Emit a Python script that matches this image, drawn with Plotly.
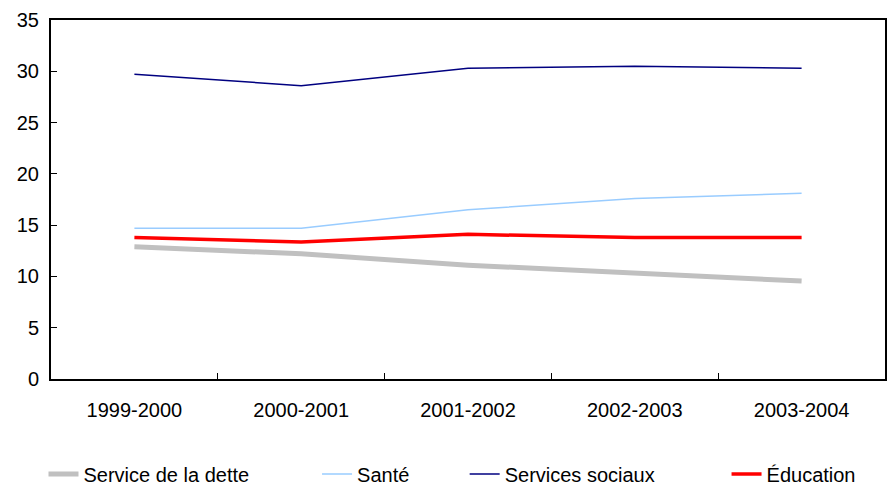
import plotly.graph_objects as go

categories = ["1999-2000", "2000-2001", "2001-2002", "2002-2003", "2003-2004"]
dette = [12.9, 12.2, 11.1, 10.3, 9.55]
sante = [14.7, 14.7, 16.5, 17.6, 18.1]
sociaux = [29.7, 28.6, 30.3, 30.5, 30.3]
education = [13.8, 13.35, 14.1, 13.8, 13.8]

series = [
    ("Service de la dette", dette, "#C0C0C0", 5, "legend"),
    ("Santé", sante, "#99CCFF", 1.5, "legend2"),
    ("Services sociaux", sociaux, "#000080", 1.5, "legend3"),
    ("Éducation", education, "#FF0000", 3.5, "legend4"),
]

fig = go.Figure()
for name, vals, color, w, lg in series:
    fig.add_trace(go.Scatter(x=categories, y=vals, mode="lines", name=name,
                             line=dict(color=color, width=w), legend=lg))

legend_x = {"legend": -0.009, "legend2": 0.319, "legend3": 0.496, "legend4": 0.810}
leg_common = dict(orientation="h", xanchor="left", y=-0.21, yanchor="top",
                  font=dict(size=20), bgcolor="rgba(0,0,0,0)")

fig.update_layout(
    width=887, height=487,
    margin=dict(l=51, r=2, t=20, b=108, autoexpand=False),
    paper_bgcolor="white", plot_bgcolor="white",
    font=dict(family="Liberation Sans, Arial, sans-serif", size=20, color="black"),
    showlegend=True,
    legend=dict(x=legend_x["legend"], **leg_common),
    legend2=dict(x=legend_x["legend2"], **leg_common),
    legend3=dict(x=legend_x["legend3"], **leg_common),
    legend4=dict(x=legend_x["legend4"], **leg_common),
)
fig.update_xaxes(type="category", range=[-0.5, 4.5], tickson="boundaries", ticks="inside",
                 ticklen=6, tickcolor="black", showline=True, linecolor="black", linewidth=2,
                 mirror=True, showgrid=False, tickfont=dict(size=20), ticklabelstandoff=12)
fig.update_yaxes(range=[0, 35], dtick=5, ticks="inside", ticklen=6, tickcolor="black",
                 showline=True, linecolor="black", linewidth=2, mirror=True,
                 showgrid=False, zeroline=False, tickfont=dict(size=20), ticklabelstandoff=6)

fig.write_html("out.html", config={"displayModeBar": False},
               post_script="document.body.style.margin='0';document.body.style.padding='0';")
